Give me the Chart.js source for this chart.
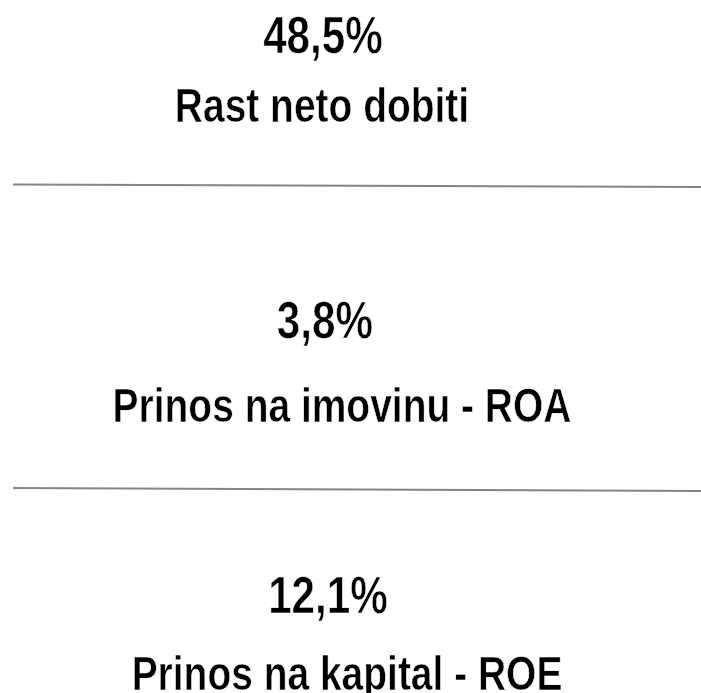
<!DOCTYPE html>
<html lang="sr">
<head>
<meta charset="UTF-8">
<title>Pokazatelji</title>
<script src="https://cdn.jsdelivr.net/npm/chart.js@4/dist/chart.umd.min.js"></script>
<style>
*{margin:0;padding:0;box-sizing:border-box}
html,body{width:701px;height:693px;background:#fff;overflow:hidden}
#c{display:block}
</style>
</head>
<body>
<canvas id="c" width="701" height="693"></canvas>
<script>
// data
var values = [48.5, 3.8, 12.1];
var labels = ["Rast neto dobiti", "Prinos na imovinu - ROA", "Prinos na kapital - ROE"];

// layout (pixel-like scale units, y grows down)
var numY = [53, 338, 613];
var labY = [122, 422, 690];
var numX = [323, 325, 328];
var labX = [322, 342, 347];
var sepA = [{x: 13, y: 184.5}, {x: 701, y: 187}];
var sepB = [{x: 13, y: 488}, {x: 701, y: 491}];

// Arial Narrow look: Liberation Sans squeezed horizontally
var FONT = '"Liberation Sans",Arial,sans-serif';
var NARROW = 0.82;

function fmt(v) { return v.toFixed(1).replace(".", ",") + "%"; }

function narrowText(ctx, txt, x, y, size) {
  ctx.save();
  ctx.font = "bold " + size + "px " + FONT;
  ctx.translate(x, y);
  ctx.scale(NARROW, 1);
  ctx.fillStyle = "#000";
  ctx.fillText(txt, 0, 0);
  // thin the bold strokes a little
  ctx.strokeStyle = "#fff";
  ctx.lineWidth = 0.6;
  ctx.lineJoin = "round";
  ctx.strokeText(txt, 0, 0);
  ctx.restore();
}

var textPlugin = {
  id: "kpiText",
  afterDatasetsDraw: function (chart) {
    var ctx = chart.ctx, xs = chart.scales.x, ys = chart.scales.y;
    ctx.save();
    ctx.textAlign = "center";
    ctx.textBaseline = "alphabetic";
    values.forEach(function (v, i) {
      narrowText(ctx, fmt(v), xs.getPixelForValue(numX[i]), ys.getPixelForValue(numY[i]), 51.5);
      narrowText(ctx, labels[i], xs.getPixelForValue(labX[i]), ys.getPixelForValue(labY[i]), 47.5);
    });
    ctx.restore();
  }
};

new Chart(document.getElementById("c"), {
  type: "line",
  data: {
    datasets: [
      {data: sepA, borderColor: "#858585", borderWidth: 2, pointRadius: 0, fill: false},
      {data: sepB, borderColor: "#858585", borderWidth: 2, pointRadius: 0, fill: false}
    ]
  },
  options: {
    responsive: false,
    animation: false,
    devicePixelRatio: 1,
    layout: {padding: 0},
    plugins: {legend: {display: false}, tooltip: {enabled: false}},
    scales: {
      x: {type: "linear", min: 0, max: 701, display: false},
      y: {type: "linear", min: 0, max: 693, reverse: true, display: false}
    }
  },
  plugins: [textPlugin]
});
</script>
</body>
</html>
